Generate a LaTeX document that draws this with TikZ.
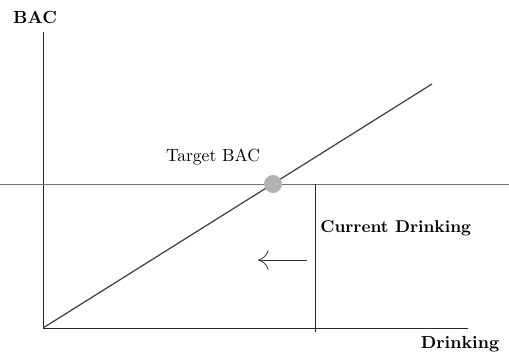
\documentclass[tikz,border=0pt]{standalone}
\usepackage{xcolor}
\usepackage{tikz}
\usetikzlibrary{positioning, calc, arrows.meta}

\begin{document}
\begin{tikzpicture}[
    x=0.02cm, y=-0.02cm,
    axis/.style={line width=0.5pt, draw=black!85},
    trend/.style={line width=0.7pt, draw=black!75},
    level/.style={line width=0.4pt, draw=black!55},
    cutback/.style={-{To[length=6pt,width=11pt]}, line width=0.45pt, draw=black!80},
    axislabel/.style={font=\bfseries, inner sep=0pt},
    marker/.style={circle, fill=black!30, minimum size=0.36cm, inner sep=0pt}
]
\useasboundingbox (0,0) rectangle (509,358);

% Axes
\coordinate (origin) at (43,328);
\coordinate (ytop) at (43,32);
\coordinate (xend) at (468,328);
\draw[axis] (ytop) -- (origin) -- (xend);
\node[axislabel] (bac) at (35,17) {BAC};
\node[axislabel] (drink) at (460,344) {Drinking};

% Target level
\coordinate (lvlL) at (0,184);
\coordinate (lvlR) at (509,184);
\draw[level] (lvlL) -- (lvlR);

% BAC line
\coordinate (lineend) at (432,84);
\draw[trend] (origin) -- (lineend);
\node[marker] (target) at (273,184) {};
\node[inner sep=0pt] (targetlbl) at (213,157) {Target BAC};

% Current drinking
\coordinate (curtop) at (315,184);
\coordinate (curbot) at (315,332);
\draw[axis] (curtop) -- (curbot);
\node[axislabel, anchor=west, font=\bfseries\fontsize{9.7}{12}\selectfont] (current) at (320,228) {Current Drinking};

% Reduction arrow
\coordinate (arrR) at (307,260);
\coordinate (arrL) at (258,260);
\draw[cutback] (arrR) -- (arrL);

\end{tikzpicture}
\end{document}
